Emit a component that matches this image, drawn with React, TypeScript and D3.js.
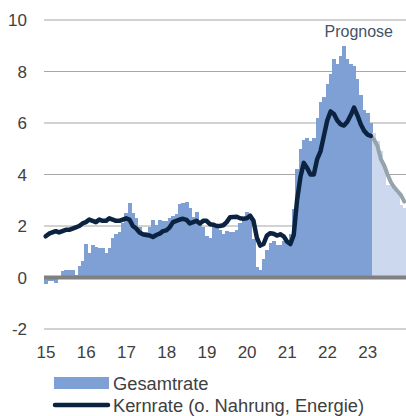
import * as d3 from "d3";

// Jahreslabels an der x-Achse
const years = ["15", "16", "17", "18", "19", "20", "21", "22", "23"];

// Gesamtrate, monatlich ab Jan 2015 (Ist bis Feb 2023)
const gesamtIst = [
  -0.25, -0.15, -0.15, -0.2, 0.0, 0.25, 0.3, 0.3, 0.3, 0.1, 0.45, 0.65,
  1.3, 0.95, 1.25, 1.2, 1.15, 1.15, 0.95, 1.15, 1.55, 1.7, 1.75, 2.1,
  2.5, 2.9, 2.5, 2.3, 1.95, 1.7, 1.75, 1.95, 2.25, 2.05, 2.25, 2.2,
  2.2, 2.3, 2.4, 2.45, 2.85, 2.9, 2.95, 2.7, 2.35, 2.55, 2.2, 1.95,
  1.6, 1.55, 1.95, 2.0, 1.85, 1.7, 1.8, 1.75, 1.75, 1.85, 2.1, 2.3,
  2.55, 2.3, 1.5, 0.4, 0.3, 0.7, 1.05, 1.35, 1.4, 1.25, 1.25, 1.4,
  1.45, 1.7, 2.65, 4.2, 5.0, 5.35, 5.4, 5.3, 5.4, 6.2, 6.8, 7.0,
  7.5, 7.9, 8.5, 8.3, 8.6, 9.0, 8.5, 8.3, 8.2, 7.7, 7.1, 6.5,
  6.4, 6.0,
];
// Gesamtrate, Prognose Mar–Dez 2023
const gesamtPrognose = [5.6, 5.3, 4.9, 4.4, 3.6, 3.6, 3.4, 3.3, 2.8, 2.7];

// Kernrate (o. Nahrung, Energie)
const kernIst = [
  1.6, 1.7, 1.75, 1.8, 1.75, 1.8, 1.85, 1.85, 1.9, 1.95, 2.0, 2.1,
  2.15, 2.25, 2.2, 2.15, 2.25, 2.2, 2.2, 2.3, 2.25, 2.2, 2.2, 2.25,
  2.3, 2.25, 2.0, 1.9, 1.75, 1.68, 1.65, 1.63, 1.57, 1.65, 1.7, 1.8,
  1.83, 1.95, 2.15, 2.2, 2.25, 2.28, 2.24, 2.1, 2.15, 2.2, 2.1, 2.2,
  2.2, 2.07, 2.05, 2.0, 2.0, 2.03, 2.15, 2.34, 2.35, 2.36, 2.3, 2.28,
  2.3, 2.4, 2.2, 1.55, 1.24, 1.3, 1.63, 1.72, 1.7, 1.63, 1.68, 1.6,
  1.4, 1.3, 1.65, 3.0, 3.9, 4.45, 4.25, 4.0, 4.0, 4.6, 4.9, 5.5,
  6.1, 6.45, 6.35, 6.1, 5.95, 5.9, 6.05, 6.3, 6.6, 6.3, 5.95, 5.7,
  5.55, 5.5,
];
const kernPrognose = [5.35, 5.1, 4.6, 4.35, 4.0, 3.7, 3.5, 3.35, 3.2, 2.95];

const yTicks = [10, 8, 6, 4, 2, 0, -2];

const FONT = "'Liberation Sans', Arial, sans-serif";

export default function App() {
  const width = 406;
  const height = 416;
  const nIst = gesamtIst.length;
  const months = d3.range(nIst + gesamtPrognose.length);

  const x = d3.scaleBand<number>().domain(months).range([44, 406]).padding(0);
  const y = d3.scaleLinear().domain([-2, 10]).range([329, 20]);
  const bw = x.bandwidth();

  const bars = [
    ...gesamtIst.map((v, i) => ({ i, v, prog: false })),
    ...gesamtPrognose.map((v, k) => ({ i: nIst + k, v, prog: true })),
  ];

  const line = d3
    .line<[number, number]>()
    .x((d) => (x(d[0]) as number) + bw / 2)
    .y((d) => y(d[1]));

  const kernIstPts: [number, number][] = kernIst.map((v, i) => [i, v]);
  const kernProgPts: [number, number][] = [
    [nIst - 1, kernIst[nIst - 1]],
    ...kernPrognose.map((v, k) => [nIst + k, v] as [number, number]),
  ];

  return (
    <svg
      width={width}
      height={height}
      style={{ position: "absolute", left: 0, top: 0, background: "#fff" }}
      fontFamily={FONT}
    >
      {/* Gitterlinien + y-Achse */}
      {yTicks.map((t) => (
        <g key={t}>
          {t !== 0 && (
            <line x1={44} x2={406} y1={y(t)} y2={y(t)} stroke="#a6a6a6" strokeWidth={1.2} />
          )}
          <text x={27} y={y(t) + 6} textAnchor="end" fontSize={17} fill="#404040">
            {t}
          </text>
        </g>
      ))}

      {/* Balken Gesamtrate */}
      {bars.map((b) => {
        const y0 = y(0);
        const yv = y(b.v);
        return (
          <rect
            key={b.i}
            x={x(b.i) as number}
            width={bw + 0.4}
            y={Math.min(y0, yv)}
            height={Math.abs(yv - y0)}
            fill={b.prog ? "#cbd8ed" : "#7fa0d4"}
            shapeRendering="crispEdges"
          />
        );
      })}

      {/* Nulllinie */}
      <line x1={44} x2={406} y1={y(0)} y2={y(0)} stroke="#808080" strokeWidth={4} />

      {/* Kernrate */}
      <path
        d={line(kernProgPts) ?? ""}
        fill="none"
        stroke="#95a3ac"
        strokeWidth={4}
        strokeLinejoin="round"
        strokeLinecap="round"
      />
      <path
        d={line(kernIstPts) ?? ""}
        fill="none"
        stroke="#0b2340"
        strokeWidth={4.5}
        strokeLinejoin="round"
        strokeLinecap="round"
      />

      <text x={393} y={37} textAnchor="end" fontSize={16} fill="#44546a">
        Prognose
      </text>

      {/* x-Achse */}
      {years.map((yr, k) => (
        <text
          key={yr}
          x={(x(k * 12) as number) + 2}
          y={358}
          textAnchor="middle"
          fontSize={17}
          fill="#404040"
        >
          {yr}
        </text>
      ))}

      {/* Legende */}
      <rect x={54} y={377} width={55} height={12} fill="#7fa0d4" />
      <text x={113} y={389.5} fontSize={18.3} fill="#404040">
        Gesamtrate
      </text>
      <line x1={55} x2={108} y1={405} y2={405} stroke="#0b2340" strokeWidth={4.5} strokeLinecap="round" />
      <text x={113} y={411.5} fontSize={18.3} fill="#404040">
        Kernrate (o. Nahrung, Energie)
      </text>
    </svg>
  );
}
